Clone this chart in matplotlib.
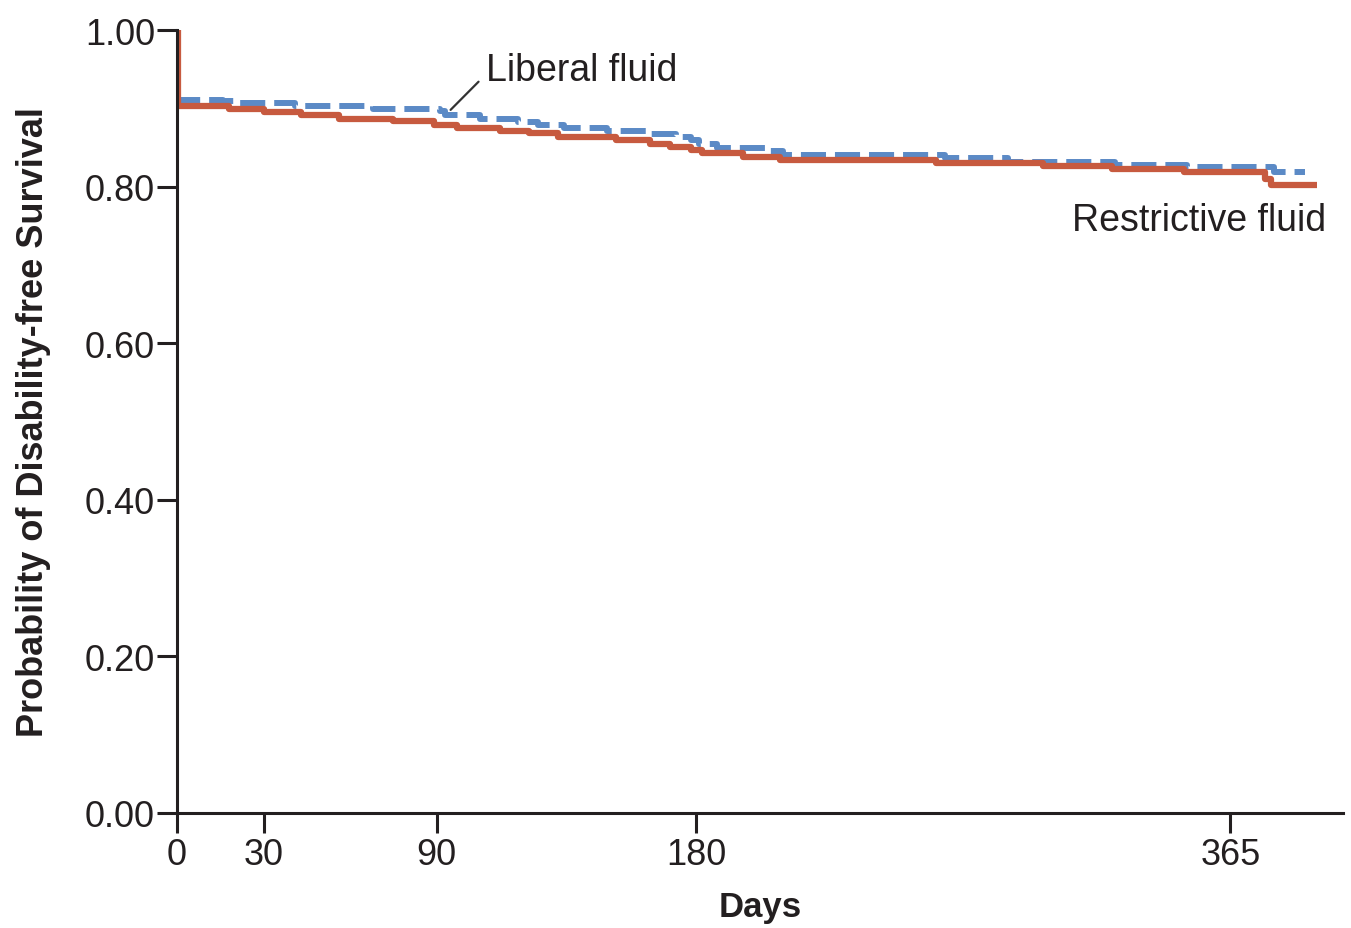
import matplotlib
matplotlib.use("Agg")
import matplotlib.pyplot as plt

# step curves
restrictive_days = [0, 0.5, 18, 30, 43, 56, 75, 89, 97, 112, 122, 132, 152, 164, 171, 178,
                    182, 196, 209, 263, 300, 324, 349, 377, 379, 395]
restrictive_surv = [1.0, 0.903, 0.899, 0.895, 0.891, 0.887, 0.884, 0.879, 0.875, 0.871, 0.868,
                    0.863, 0.860, 0.855, 0.851, 0.847, 0.843, 0.838, 0.834, 0.830, 0.826,
                    0.822, 0.819, 0.810, 0.802, 0.802]

liberal_days = [0, 0.5, 16, 22, 41, 68, 91, 93, 105, 118, 125, 134, 149, 163, 173, 178,
                181, 187, 205, 210, 266, 288, 325, 350, 380, 391]
liberal_surv = [1.0, 0.911, 0.909, 0.907, 0.903, 0.899, 0.896, 0.892, 0.887, 0.883, 0.879,
                0.875, 0.871, 0.867, 0.863, 0.860, 0.855, 0.849, 0.845, 0.841, 0.837,
                0.832, 0.828, 0.825, 0.819, 0.819]

x_ticks = [0, 30, 90, 180, 365]
y_ticks = [0.0, 0.2, 0.4, 0.6, 0.8, 1.0]

RED = '#C75A3F'
BLUE = '#5B8AC6'
INK = '#231f20'

plt.rcParams['font.family'] = ['Liberation Sans', 'DejaVu Sans']

fig = plt.figure(figsize=(13.51, 9.29), dpi=100)
ax = fig.add_axes([0.131, 0.1238, 0.863, 0.8428])

ax.plot(liberal_days, liberal_surv, drawstyle='steps-post', color=BLUE, lw=4.3,
        dashes=(4.2, 1.5), solid_capstyle='butt')
ax.plot(restrictive_days, restrictive_surv, drawstyle='steps-post', color=RED, lw=4.5,
        solid_capstyle='butt')

ax.set_xlim(0, 404)
ax.set_ylim(0, 1.0)
ax.set_xticks(x_ticks)
ax.set_xticklabels([str(t) for t in x_ticks])
ax.set_yticks(y_ticks)
ax.set_yticklabels([f'{t:.2f}' for t in y_ticks])

for side in ['top', 'right']:
  ax.spines[side].set_visible(False)
for side in ['left', 'bottom']:
  ax.spines[side].set_linewidth(2.2)
  ax.spines[side].set_color(INK)
ax.tick_params(axis='both', length=14.4, width=2.2, color=INK, labelcolor=INK, labelsize=26)
ax.tick_params(axis='y', pad=1.5)
ax.tick_params(axis='x', pad=3)

ax.set_xlabel('Days', fontsize=25, fontweight='bold', color=INK, labelpad=13)
ax.set_ylabel('Probability of Disability-free Survival', fontsize=26, fontweight='bold',
              color=INK, labelpad=24)

# leader line for the liberal label
ax.annotate('', xy=(94.8, 0.898), xytext=(104.5, 0.934),
            arrowprops=dict(arrowstyle='-', color='#333333', lw=1.6, shrinkA=0, shrinkB=0))
ax.text(107, 0.936, 'Liberal fluid', fontsize=27, color=INK, va='baseline', ha='left')
ax.text(310, 0.745, 'Restrictive fluid', fontsize=27, color=INK, va='baseline', ha='left')

fig.savefig('out.png', dpi=100)
